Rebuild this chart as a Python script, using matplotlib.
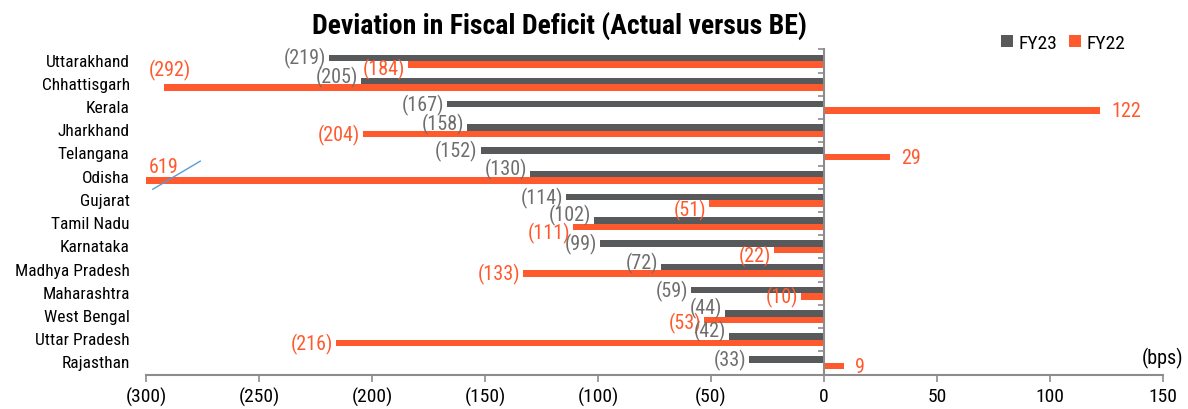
import matplotlib
matplotlib.use("Agg")
import matplotlib.pyplot as plt
import matplotlib.transforms as mtransforms
from matplotlib import font_manager
import numpy as np

# pick a narrow font if one is installed
names = {f.name for f in font_manager.fontManager.ttflist}
narrow = None
for cand in ["Liberation Sans Narrow", "Arial Narrow", "Roboto Condensed", "Open Sans Condensed",
             "DejaVu Sans Condensed"]:
    if cand in names:
        narrow = cand
        break
if narrow:
    plt.rcParams['font.family'] = [narrow, 'Liberation Sans', 'DejaVu Sans']
    fs, fs_cat, fs_title = 14.5, 12.5, 20
else:
    plt.rcParams['font.family'] = ['Liberation Sans', 'DejaVu Sans']
    fs, fs_cat, fs_title = 12, 10, 15

# Data (bps)
states = ["Uttarakhand", "Chhattisgarh", "Kerala", "Jharkhand", "Telangana", "Odisha",
          "Gujarat", "Tamil Nadu", "Karnataka", "Madhya Pradesh", "Maharashtra",
          "West Bengal", "Uttar Pradesh", "Rajasthan"]
fy23 = [-219, -205, -167, -158, -152, -130, -114, -102, -99, -72, -59, -44, -42, -33]
fy22 = [-184, -292, 122, -204, 29, -619, -51, -111, -22, -133, -10, -53, -216, 9]
fy22_label_override = {"Odisha": "619"}
xticks = [-300, -250, -200, -150, -100, -50, 0, 50, 100, 150]

# vertical nudges for labels (points, + = up)
fy23_dy = {"Chhattisgarh": 3, "Jharkhand": 3, "Odisha": 4, "Tamil Nadu": 4,
           "Madhya Pradesh": 3, "West Bengal": 4, "Uttar Pradesh": 4}
fy22_dy = {"Uttarakhand": -3, "Chhattisgarh": 13, "Odisha": 10, "Gujarat": -4,
           "Tamil Nadu": -4, "Karnataka": -4, "West Bengal": -2}

c23 = "#58595b"
c22 = "#ff5a2e"
lab23 = "#6e6e6e"

def fmt(v):
    return f"({abs(v)})" if v < 0 else f"{v}"

fig = plt.figure(figsize=(11.88, 4.10), dpi=100)
ax = fig.add_axes([0.1229, 0.0839, 0.8561, 0.7931])

y = np.arange(len(states))
h = 0.28
ax.barh(y - 0.14, fy23, height=h, color=c23, label="FY23", zorder=2)
ax.barh(y + 0.14, fy22, height=h, color=c22, label="FY22", zorder=2)

ax.set_xlim(-300, 150)
ax.set_ylim(len(states) - 0.5, -0.5)

for i, s in enumerate(states):
    v = fy23[i]
    ax.annotate(fmt(v), (v, y[i] - 0.14), xytext=(-2 if v < 0 else 3, fy23_dy.get(s, 0)),
                textcoords="offset points", ha="right" if v < 0 else "left",
                va="center", fontsize=fs, color=lab23, annotation_clip=False)
    v = fy22[i]
    txt = fy22_label_override.get(s, fmt(v))
    if s in fy22_label_override:
        ax.annotate(txt, (-300, y[i] + 0.14), xytext=(2, fy22_dy.get(s, 0)),
                    textcoords="offset points", ha="left", va="center",
                    fontsize=fs, color=c22)
    elif s == "Chhattisgarh":
        ax.annotate(txt, (v, y[i] + 0.14), xytext=(4, fy22_dy.get(s, 0)),
                    textcoords="offset points", ha="center", va="center",
                    fontsize=fs, color=c22)
    else:
        ax.annotate(txt, (v, y[i] + 0.14), xytext=(-2 if v < 0 else 8, fy22_dy.get(s, 0)),
                    textcoords="offset points", ha="right" if v < 0 else "left",
                    va="center", fontsize=fs, color=c22)

# broken-bar mark for Odisha
ax.plot([-297, -276], [5.52, 4.31], color="#5b9bd5", lw=1, clip_on=False, zorder=3)

# category labels
trans = mtransforms.blended_transform_factory(ax.transAxes, ax.transData)
for i, s in enumerate(states):
    ax.text(-0.016, y[i], s, transform=trans, ha="right", va="center", fontsize=fs_cat)

# spines
for sp in ["top", "right"]:
    ax.spines[sp].set_visible(False)
ax.spines["left"].set_position(("data", 0))
ax.spines["left"].set_color("#8c8c8c")
ax.spines["left"].set_linewidth(1.5)
ax.spines["bottom"].set_color("#8c8c8c")
ax.spines["bottom"].set_linewidth(1.5)
ax.set_yticks(np.arange(len(states) + 1) - 0.5)
ax.tick_params(axis="y", length=4, width=1.2, color="#8c8c8c", labelleft=False)
ax.set_xticks(xticks)
ax.set_xticklabels([fmt(t) for t in xticks], fontsize=fs - 0.5)
ax.tick_params(axis="x", length=5, width=1.2, color="#8c8c8c", pad=4)

ax.text(150, 13.2, "(bps)", ha="center", va="bottom", fontsize=fs)

fig.text(0.471, 0.937, "Deviation in Fiscal Deficit (Actual versus BE)", ha="center",
         va="center", fontsize=fs_title, fontweight="bold")
fig.legend(loc="center", bbox_to_anchor=(0.895, 0.893), ncol=2, frameon=False,
           handlelength=0.6, handleheight=0.6, handletextpad=0.3, columnspacing=0.6,
           fontsize=fs - 0.5)

fig.savefig("out.png", dpi=100)
